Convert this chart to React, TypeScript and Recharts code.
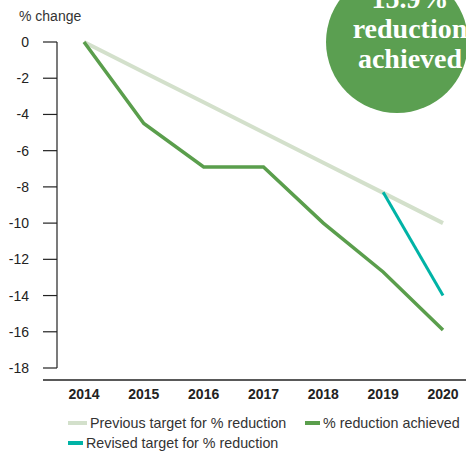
import React from "react";
import { LineChart, Line, XAxis, YAxis, ReferenceLine } from "recharts";

const years = ["2014", "2015", "2016", "2017", "2018", "2019", "2020"];
const previousTarget = [0, -1.67, -3.33, -5, -6.67, -8.33, -10];
const achieved = [0, -4.5, -6.9, -6.9, -10, -12.7, -15.9];
const revisedTarget: (number | null)[] = [null, null, null, null, null, -8.3, -14];
const yTicks = [0, -2, -4, -6, -8, -10, -12, -14, -16, -18];

const data = years.map((y, i) => ({
  year: y,
  previous: previousTarget[i],
  achieved: achieved[i],
  revised: revisedTarget[i],
}));

const C_PREV = "#d3e0cb";
const C_ACH = "#5a9e4c";
const C_REV = "#00b3a6";
const FONT = "'Liberation Sans', Arial, Helvetica, sans-serif";

const legendItems = [
  { label: "Previous target for % reduction", color: C_PREV, x: 68, y: 423, w: 19 },
  { label: "% reduction achieved", color: C_ACH, x: 305, y: 423, w: 15 },
  { label: "Revised target for % reduction", color: C_REV, x: 68, y: 443, w: 15 },
];

export default function App() {
  return (
    <div style={{ position: "absolute", left: 0, top: 0, width: 466, height: 453, overflow: "hidden", background: "#fff", fontFamily: FONT }}>
      <LineChart width={466} height={453} data={data} margin={{ top: 42, right: 0, bottom: 55, left: 0 }}>
        <YAxis
          type="number"
          domain={[-18, 0]}
          ticks={yTicks}
          interval={0}
          width={57}
          tickSize={14}
          tickMargin={14}
          axisLine={{ stroke: "#222", strokeWidth: 1.2 }}
          tickLine={{ stroke: "#222", strokeWidth: 1.2 }}
          tick={{ fill: "#222", fontSize: 14, fontFamily: FONT }}
        />
        <XAxis
          dataKey="year"
          height={30}
          padding={{ left: 27, right: 23 }}
          axisLine={false}
          tickLine={false}
          tickMargin={15}
          interval={0}
          tick={{ fill: "#222", fontSize: 14, fontWeight: 700, fontFamily: FONT }}
        />
        <ReferenceLine
          y={-18}
          stroke="#222"
          shape={(p: any) => (
            <line x1={43} y1={p.y1 + 12} x2={466} y2={p.y2 + 12} stroke="#222" strokeWidth={1.5} />
          )}
        />
        <Line dataKey="previous" stroke={C_PREV} strokeWidth={4} dot={false} isAnimationActive={false} />
        <Line dataKey="achieved" stroke={C_ACH} strokeWidth={3.5} dot={false} isAnimationActive={false} />
        <Line dataKey="revised" stroke={C_REV} strokeWidth={3} dot={false} isAnimationActive={false} connectNulls={false} />
      </LineChart>
      <div style={{ position: "absolute", left: 19, top: 8, fontSize: 14, color: "#333", fontFamily: FONT }}>% change</div>
      <svg width={466} height={453} style={{ position: "absolute", left: 0, top: 0, pointerEvents: "none" }}>
        <circle cx={397} cy={42} r={71} fill="#5b9f51" />
        <g fill="#fff" fontFamily="'Liberation Serif', 'DejaVu Serif', serif" fontWeight={700} fontSize={28} textAnchor="middle">
          <text x={410} y={8}>15.9%</text>
          <text x={410} y={38}>reduction</text>
          <text x={410} y={68}>achieved</text>
        </g>
        {legendItems.map((it) => (
          <g key={it.label}>
            <rect x={it.x} y={it.y - 2} width={it.w} height={4} fill={it.color} />
            <text x={it.x + it.w + 3} y={it.y + 5} fontSize={14.3} fill="#333" fontFamily={FONT}>{it.label}</text>
          </g>
        ))}
      </svg>
    </div>
  );
}
